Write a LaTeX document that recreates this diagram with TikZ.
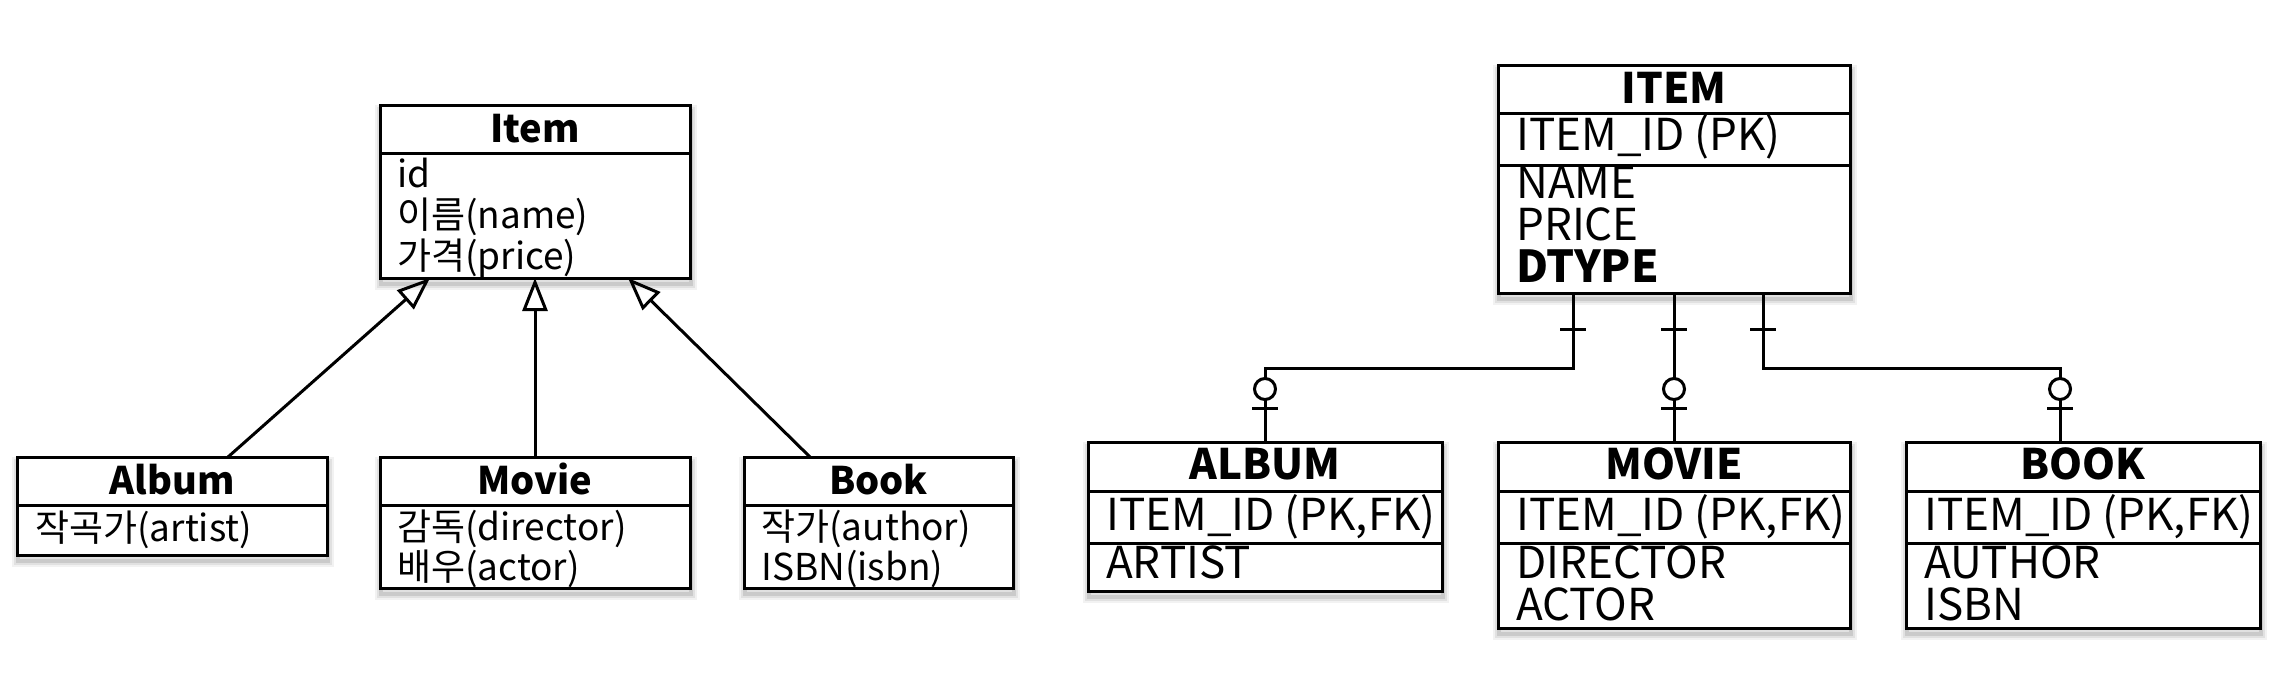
\documentclass[tikz,border=0pt]{standalone}
\usepackage{fontspec}
\setmainfont{Noto Sans CJK KR}
\usetikzlibrary{arrows.meta,calc}
\tikzset{
  softshadow/.style={
    preaction={draw=black, line width=12pt, draw opacity=0.05, transform canvas={xshift=1pt, yshift=-6pt}},
    preaction={draw=black, line width=8pt, draw opacity=0.07, transform canvas={xshift=1pt, yshift=-6pt}},
    preaction={draw=black, line width=4pt, draw opacity=0.10, transform canvas={xshift=1pt, yshift=-6pt}}},
  box/.style={draw, line width=3pt, fill=white, inner sep=0pt, outer sep=0pt, anchor=north west, softshadow},
  divider/.style={line width=3pt},
  ltitle/.style={anchor=base, inner sep=0pt, font=\fontsize{38}{38}\selectfont\bfseries},
  lbody/.style={anchor=base west, inner sep=0pt, font=\fontsize{37}{37}\selectfont},
  rtitle/.style={anchor=base, inner sep=0pt, font=\fontsize{42}{42}\selectfont\bfseries},
  rbody/.style={anchor=base west, inner sep=0pt, font=\fontsize{44}{44}\selectfont},
  inherit/.style={line width=3pt, -{Triangle[open, length=33pt, width=25pt, line width=3pt]}},
  rel/.style={line width=3pt},
  tickbar/.style={line width=3pt},
  zeromark/.style={line width=3pt, fill=white},
}
\begin{document}
\begin{tikzpicture}[x=1pt, y=-1pt]
\useasboundingbox (0,0) rectangle (2280,680);

% ---------- left: class diagram ----------
\node[box, minimum width=310pt, minimum height=173pt] (item) at (380,105) {};
\draw[divider] ([yshift=-48pt]item.north west) -- ([yshift=-48pt]item.north east);
\node[ltitle] (itemT) at (535,142) {Item};
\node[lbody] (itemA) at (397,187) {id};
\node[lbody] (itemB) at (397,228) {이름(name)};
\node[lbody] (itemC) at (397,269) {가격(price)};

\node[box, minimum width=310pt, minimum height=98pt] (album) at (17,457) {};
\draw[divider] ([yshift=-48pt]album.north west) -- ([yshift=-48pt]album.north east);
\node[ltitle] (albumT) at (172,494) {Album};
\node[lbody] (albumA) at (35,541) {작곡가(artist)};

\node[box, minimum width=310pt, minimum height=131pt] (movie) at (380,457) {};
\draw[divider] ([yshift=-48pt]movie.north west) -- ([yshift=-48pt]movie.north east);
\node[ltitle] (movieT) at (535,494) {Movie};
\node[lbody] (movieA) at (397,540) {감독(director)};
\node[lbody] (movieB) at (397,580) {배우(actor)};

\node[box, minimum width=269pt, minimum height=131pt] (book) at (744,457) {};
\draw[divider] ([yshift=-48pt]book.north west) -- ([yshift=-48pt]book.north east);
\node[ltitle] (bookT) at (878.5,494) {Book};
\node[lbody] (bookA) at (761,540) {작가(author)};
\node[lbody] (bookB) at (761,580) {ISBN(isbn)};

\draw[inherit] ([xshift=56pt]album.north) -- ([xshift=-105pt]item.south);
\draw[inherit] (movie.north) -- (item.south);
\draw[inherit] ([xshift=-68.5pt]book.north) -- ([xshift=93pt]item.south);

% ---------- right: ER diagram ----------
\node[box, minimum width=352pt, minimum height=228pt] (ITEM) at (1498,65) {};
\draw[divider] ([yshift=-48pt]ITEM.north west) -- ([yshift=-48pt]ITEM.north east);
\draw[divider] ([yshift=-100pt]ITEM.north west) -- ([yshift=-100pt]ITEM.north east);
\node[rtitle] (ITEMT) at (1674,103) {ITEM};
\node[rbody] (ITEMA) at (1516,150) {ITEM\_ID (PK)};
\node[rbody] (ITEMB) at (1516,198) {NAME};
\node[rbody] (ITEMC) at (1516,240) {PRICE};
\node[rbody, font=\fontsize{44}{44}\selectfont\bfseries] (ITEMD) at (1516,282) {DTYPE};

\node[box, minimum width=354pt, minimum height=149pt] (ALBUM) at (1088,442) {};
\draw[divider] ([yshift=-49pt]ALBUM.north west) -- ([yshift=-49pt]ALBUM.north east);
\draw[divider] ([yshift=-101pt]ALBUM.north west) -- ([yshift=-101pt]ALBUM.north east);
\node[rtitle] (ALBUMT) at (1265,479) {ALBUM};
\node[rbody] (ALBUMA) at (1106,530) {ITEM\_ID (PK,FK)};
\node[rbody] (ALBUMB) at (1106,578) {ARTIST};

\node[box, minimum width=352pt, minimum height=186pt] (MOVIE) at (1498,442) {};
\draw[divider] ([yshift=-49pt]MOVIE.north west) -- ([yshift=-49pt]MOVIE.north east);
\draw[divider] ([yshift=-101pt]MOVIE.north west) -- ([yshift=-101pt]MOVIE.north east);
\node[rtitle] (MOVIET) at (1674,479) {MOVIE};
\node[rbody] (MOVIEA) at (1516,530) {ITEM\_ID (PK,FK)};
\node[rbody] (MOVIEB) at (1516,578) {DIRECTOR};
\node[rbody] (MOVIEC) at (1516,620) {ACTOR};

\node[box, minimum width=354pt, minimum height=186pt] (BOOK) at (1906,442) {};
\draw[divider] ([yshift=-49pt]BOOK.north west) -- ([yshift=-49pt]BOOK.north east);
\draw[divider] ([yshift=-101pt]BOOK.north west) -- ([yshift=-101pt]BOOK.north east);
\node[rtitle] (BOOKT) at (2083,479) {BOOK};
\node[rbody] (BOOKA) at (1924,530) {ITEM\_ID (PK,FK)};
\node[rbody] (BOOKB) at (1924,578) {AUTHOR};
\node[rbody] (BOOKC) at (1924,620) {ISBN};

% relationships
\draw[rel] ([xshift=-101pt]ITEM.south) -- ++(0,75) -| (ALBUM.north);
\draw[rel] (ITEM.south) -- (MOVIE.north);
\draw[rel] ([xshift=89pt]ITEM.south) -- ++(0,75) -| ([xshift=-23pt]BOOK.north);

% one-marks at ITEM side
\draw[tickbar] (1560,329) -- (1586,329);
\draw[tickbar] (1661,329) -- (1687,329);
\draw[tickbar] (1750,329) -- (1776,329);
% zero-or-one marks at child side
\draw[zeromark] (1265,389) circle (10.5pt);
\draw[tickbar] (1252,408) -- (1278,408);
\draw[zeromark] (1674,389) circle (10.5pt);
\draw[tickbar] (1661,408) -- (1687,408);
\draw[zeromark] (2060,389) circle (10.5pt);
\draw[tickbar] (2047,408) -- (2073,408);
\end{tikzpicture}
\end{document}
